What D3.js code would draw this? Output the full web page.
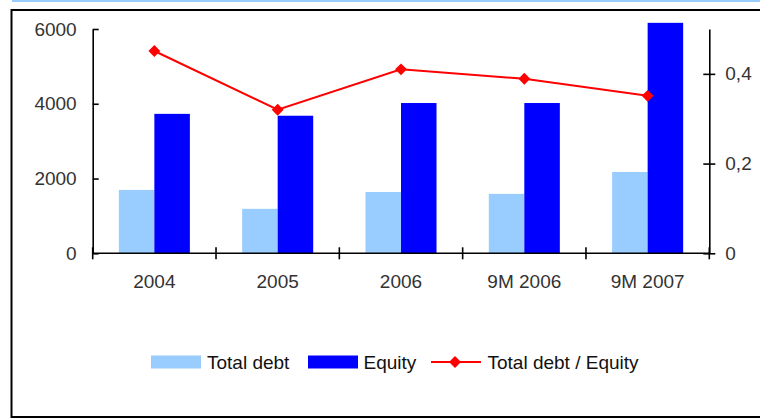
<!DOCTYPE html>
<html>
<head>
<meta charset="utf-8">
<script src="https://cdn.jsdelivr.net/npm/d3@7"></script>
<style>
  html, body { margin: 0; padding: 0; background: #fff; }
  svg { display: block; font-family: "Liberation Sans", Arial, sans-serif; }
</style>
</head>
<body>
<svg id="chart" width="760" height="419"></svg>
<script>
// Debt and equity by period, with the debt/equity ratio on the right axis
const categories = ["2004", "2005", "2006", "9M 2006", "9M 2007"];
const totalDebt = [1695, 1190, 1640, 1590, 2175];
const equity = [3730, 3680, 4020, 4020, 6165];
const debtToEquity = [0.451, 0.32, 0.41, 0.389, 0.351];
const leftTicks = [0, 2000, 4000, 6000];
const rightTicks = [0, 0.2, 0.4];
const seriesNames = ["Total debt", "Equity", "Total debt / Equity"];

const colors = { debt: "#99CCFF", equity: "#0000FF", ratio: "#FF0000" };

const svg = d3.select("#chart");

// page frame
svg.append("line").attr("x1", 12).attr("x2", 760).attr("y1", 1).attr("y2", 1)
  .attr("stroke", "#99CCFF").attr("stroke-width", 2);
svg.append("rect").attr("x", 11.5).attr("y", 10).attr("width", 760).attr("height", 407)
  .attr("fill", "none").attr("stroke", "#000").attr("stroke-width", 2);

const plot = { left: 92.7, right: 709.3, top: 29, bottom: 253.3 };

const xOuter = d3.scaleBand().domain(categories).range([plot.left, plot.right]).padding(0);
const xGroup = d3.scaleBand().domain(categories).range([plot.left, plot.right])
  .paddingInner(0.424).paddingOuter(0.212);
const xSub = d3.scaleBand().domain(["debt", "equity"]).range([0, xGroup.bandwidth()]);

const yLeft = d3.scaleLinear().domain([0, 6000]).range([plot.bottom, plot.top]);
const yRight = d3.scaleLinear().domain([0, 0.5]).range([plot.bottom, plot.top]);

// bars
const groups = svg.append("g").selectAll("g").data(categories).join("g")
  .attr("transform", d => `translate(${xGroup(d)},0)`);
groups.append("rect")
  .attr("x", xSub("debt")).attr("width", xSub.bandwidth())
  .attr("y", (d, i) => yLeft(totalDebt[i]))
  .attr("height", (d, i) => yLeft(0) - yLeft(totalDebt[i]))
  .attr("fill", colors.debt);
groups.append("rect")
  .attr("x", xSub("equity")).attr("width", xSub.bandwidth())
  .attr("y", (d, i) => yLeft(equity[i]))
  .attr("height", (d, i) => yLeft(0) - yLeft(equity[i]))
  .attr("fill", colors.equity);

// axes
const tickColor = "#333";
function styleAxis(g) {
  g.selectAll(".domain").attr("stroke", "#000").attr("stroke-width", 1.6);
  g.selectAll(".tick line").attr("stroke", "#000").attr("stroke-width", 1.6);
  g.selectAll(".tick text").attr("fill", tickColor).style("font-size", "19px")
    .style("font-family", "'Liberation Sans', Arial, sans-serif");
}

const leftAxis = svg.append("g").attr("transform", `translate(${plot.left},0)`)
  .call(d3.axisLeft(yLeft).tickValues(leftTicks).tickSizeInner(6).tickSizeOuter(0).tickPadding(10).tickFormat(d3.format("d")));
leftAxis.selectAll(".tick line").attr("x2", 6);
styleAxis(leftAxis);

const commaFmt = d => String(d).replace(".", ",");
const rightAxis = svg.append("g").attr("transform", `translate(${plot.right},0)`)
  .call(d3.axisRight(yRight).tickValues(rightTicks).tickSizeInner(6).tickSizeOuter(0).tickPadding(10).tickFormat(commaFmt));
rightAxis.selectAll(".tick line").attr("x2", 6).attr("x1", -6);
styleAxis(rightAxis);

const bottomAxis = svg.append("g").attr("transform", `translate(0,${plot.bottom})`)
  .call(d3.axisBottom(xOuter).tickSize(0).tickPadding(21));
bottomAxis.select(".domain").attr("d", `M${plot.left},0H${plot.right}`);
styleAxis(bottomAxis);
// category separators
const seps = categories.map(c => xOuter(c)).concat([plot.right]);
bottomAxis.selectAll("line.sep").data(seps).join("line").attr("class", "sep")
  .attr("x1", d => d).attr("x2", d => d).attr("y1", -6).attr("y2", 6)
  .attr("stroke", "#000").attr("stroke-width", 1.6);

// ratio line
const lineGen = d3.line()
  .x((d, i) => xOuter(categories[i]) + xOuter.bandwidth() / 2)
  .y(d => yRight(d));
svg.append("path").datum(debtToEquity).attr("d", lineGen)
  .attr("fill", "none").attr("stroke", colors.ratio).attr("stroke-width", 2);
const diamond = d3.symbol().type(d3.symbolDiamond2).size(90);
svg.append("g").selectAll("path").data(debtToEquity).join("path")
  .attr("d", diamond)
  .attr("transform", (d, i) => `translate(${xOuter(categories[i]) + xOuter.bandwidth() / 2},${yRight(d)})`)
  .attr("fill", colors.ratio);

// legend
const legend = svg.append("g").style("font-size", "19px").attr("fill", "#111");
const ly = 362;
legend.append("rect").attr("x", 151).attr("y", ly - 6.5).attr("width", 50).attr("height", 13).attr("fill", colors.debt);
legend.append("text").attr("x", 207).attr("y", ly).attr("dy", "0.35em").text(seriesNames[0]);
legend.append("rect").attr("x", 308).attr("y", ly - 6.5).attr("width", 50).attr("height", 13).attr("fill", colors.equity);
legend.append("text").attr("x", 363.5).attr("y", ly).attr("dy", "0.35em").text(seriesNames[1]);
legend.append("line").attr("x1", 431).attr("x2", 481).attr("y1", ly).attr("y2", ly)
  .attr("stroke", colors.ratio).attr("stroke-width", 2);
legend.append("path").attr("d", diamond).attr("transform", `translate(455,${ly})`).attr("fill", colors.ratio);
legend.append("text").attr("x", 487.5).attr("y", ly).attr("dy", "0.35em").text(seriesNames[2]);
</script>
</body>
</html>
